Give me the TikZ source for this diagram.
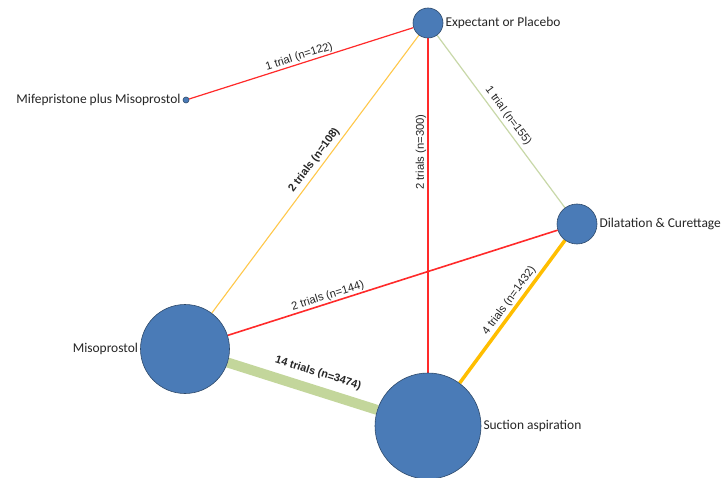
\documentclass[tikz,border=0pt]{standalone}
\usepackage{fontspec}
\setmainfont{Carlito}
\newfontfamily\edgefont{Liberation Sans}
\usetikzlibrary{backgrounds}
\definecolor{nodeblue}{HTML}{4A7BB7}
\definecolor{nodeedge}{HTML}{2E4A6B}
\definecolor{linkred}{HTML}{FF2A2A}
\definecolor{linkyellow}{HTML}{FFC84A}
\definecolor{linkorange}{HTML}{FFBE00}
\definecolor{linkpale}{HTML}{C8D8A8}
\definecolor{linkgreen}{HTML}{C3D69B}
\tikzset{
  treat/.style={circle, draw=nodeedge, line width=0.6bp, fill=nodeblue, inner sep=0pt, minimum size=#1},
  tlabel/.style={font=\fontsize{13.5}{15}\selectfont, text=black!85, inner sep=2bp},
  link/.style={line width=#1},
  elabel/.style={font=\edgefont\fontsize{11.3}{13}\selectfont, text=black!85, sloped, above, inner sep=1bp},
  blabel/.style={elabel, font=\edgefont\bfseries\fontsize{11}{13}\selectfont}
}
\begin{document}
\begin{tikzpicture}[x=1bp, y=-1bp]
\useasboundingbox (0,0) rectangle (727,478);

% treatments, sized by number of patients
\node[treat=30bp] (exp) at (428,23) {};
\node[treat=6bp] (mife) at (186,100) {};
\node[treat=40bp] (dc) at (577,224) {};
\node[treat=89bp] (miso) at (185,349) {};
\node[treat=106bp] (suc) at (428,426) {};

\node[tlabel, right] (explab) at (exp.east) {Expectant or Placebo};
\node[tlabel, left] (mifelab) at (mife.west) {Mifepristone plus Misoprostol};
\node[tlabel, right] (dclab) at (dc.east) {Dilatation \& Curettage};
\node[tlabel, left] (misolab) at (miso.west) {Misoprostol};
\node[tlabel, right] (suclab) at (suc.east) {Suction aspiration};

% direct comparisons, width by number of trials
\begin{scope}[on background layer]
\fill[white] (0,0) rectangle (727,478);
\draw[link=1.2bp, linkred] (mife) -- node[elabel, pos=0.50] {1 trial (n=122)} (exp);
\draw[link=1.1bp, linkyellow] (miso) -- node[blabel, pos=0.53, inner sep=3.5bp] {2 trials (n=108)} (exp);
\draw[link=1.6bp, linkred] (suc) -- node[elabel, pos=0.66] {2 trials (n=300)} (exp);
\draw[link=1.2bp, linkpale] (exp) -- node[elabel, pos=0.50, inner sep=3bp] {1 trial (n=155)} (dc);
\draw[link=1.6bp, linkred] (miso) -- node[elabel, pos=0.31] {2 trials (n=144)} (dc);
\draw[link=10bp, linkgreen] (miso) -- node[blabel, pos=0.57, inner sep=7bp] {14 trials (n=3474)} (suc);
\draw[link=3.5bp, linkorange] (suc) -- node[elabel, pos=0.54, inner sep=2bp] {4 trials (n=1432)} (dc);
\end{scope}
\end{tikzpicture}
\end{document}
